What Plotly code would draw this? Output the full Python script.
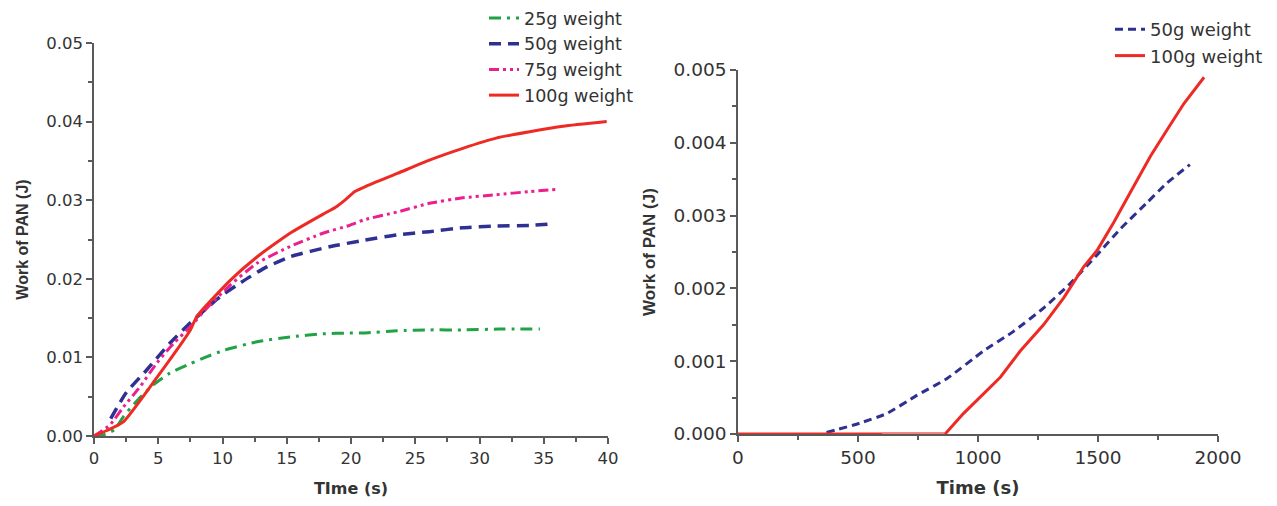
import plotly.graph_objects as go

# ---------------- Left panel data (Time s, Work J) ----------------
t25 = [0, 0.5, 1.6, 2.3, 3.3, 4.6, 5.9, 7.5, 8.8, 10.1, 12.7, 15.25, 17.8, 19.9, 21.0, 23.6, 26.1, 28.7, 31.5, 34.7]
w25 = [0, 0.0, 0.0008, 0.0025, 0.0044, 0.0065, 0.0080, 0.0092, 0.0101, 0.0109, 0.0120, 0.0126, 0.0130, 0.0131, 0.0131, 0.0134, 0.0135, 0.0135, 0.0136, 0.0136]

t50 = [1.3, 2.5, 4.1, 5.9, 7.5, 9.8, 11.5, 13.2, 15.25, 18.4, 21.0, 23.6, 26.1, 28.7, 31.3, 33.9, 35.7]
w50 = [0.0022, 0.0055, 0.0084, 0.0118, 0.0144, 0.0177, 0.0196, 0.0213, 0.0228, 0.0241, 0.0249, 0.0256, 0.0260, 0.0265, 0.0267, 0.0268, 0.0270]

t75 = [0, 1.24, 2.3, 3.6, 4.9, 6.2, 7.5, 8.8, 10.6, 12.7, 15.25, 17.8, 19.9, 21.0, 23.6, 26.1, 28.7, 31.3, 33.9, 36.1]
w75 = [0, 0.0014, 0.0037, 0.0063, 0.0093, 0.0118, 0.0139, 0.0163, 0.0192, 0.0220, 0.0241, 0.0258, 0.0268, 0.0275, 0.0285, 0.0296, 0.0303, 0.0307, 0.0311, 0.0314]

t100 = [0, 1.0, 2.28, 4.87, 7.5, 8.0, 10.6, 12.7, 15.25, 17.8, 18.8, 19.6, 20.3, 21.2, 23.6, 26.1, 28.7, 31.3, 33.9, 36.5, 39.9]
w100 = [0, 0.0007, 0.0018, 0.0074, 0.0135, 0.0152, 0.0198, 0.0228, 0.0258, 0.0282, 0.0291, 0.0301, 0.0311, 0.0318, 0.0334, 0.0351, 0.0366, 0.0379, 0.0387, 0.0394, 0.0400]

# ---------------- Right panel data (Time s, Work J) ----------------
r50_t = [369, 508, 619, 745, 870, 1023, 1148, 1273, 1385, 1496, 1594, 1705, 1788, 1883]
r50_w = [0.00002, 0.00015, 0.00028, 0.00053, 0.00076, 0.00114, 0.00141, 0.00173, 0.00207, 0.00246, 0.00282, 0.00318, 0.00345, 0.00370]

r100_t = [0, 600, 863, 939, 1023, 1093, 1176, 1273, 1357, 1441, 1496, 1566, 1635, 1719, 1788, 1858, 1942]
r100_w = [0, 0, 0, 0.00028, 0.00055, 0.00078, 0.00114, 0.00150, 0.00187, 0.00230, 0.00252, 0.00291, 0.00332, 0.00382, 0.00418, 0.00454, 0.00490]
# lighter-drawn stretch of the flat red baseline
r100_faded_t = [600, 860]
r100_faded_w = [0, 0]

left_names = ["25g weight", "50g weight", "75g weight", "100g weight"]
right_names = ["50g weight", "100g weight"]

GREEN = "#1fa344"
BLUE = "#2e3192"
MAGENTA = "#ec1f8e"
RED = "#ee2a24"
RED_FADED = "#f47f7c"
AXC = "#5a5a5a"
TXT = "#333333"
WIDE = "DejaVu Sans, Verdana, sans-serif"
ARIAL = "Liberation Sans, Arial, sans-serif"

fig = go.Figure()

fig.add_trace(go.Scatter(x=t25, y=w25, name=left_names[0], mode="lines",
                         line=dict(color=GREEN, width=3, dash="12px,6px,3px,6px", shape="spline", smoothing=0.5),
                         xaxis="x", yaxis="y", legend="legend"))
fig.add_trace(go.Scatter(x=t50, y=w50, name=left_names[1], mode="lines",
                         line=dict(color=BLUE, width=3.5, dash="12px,7px", shape="spline", smoothing=0.5),
                         xaxis="x", yaxis="y", legend="legend"))
fig.add_trace(go.Scatter(x=t75, y=w75, name=left_names[2], mode="lines",
                         line=dict(color=MAGENTA, width=3, dash="10px,4px,3px,4px,3px,4px", shape="spline", smoothing=0.5),
                         xaxis="x", yaxis="y", legend="legend"))
fig.add_trace(go.Scatter(x=t100, y=w100, name=left_names[3], mode="lines",
                         line=dict(color=RED, width=3, shape="spline", smoothing=0.5),
                         xaxis="x", yaxis="y", legend="legend"))

fig.add_trace(go.Scatter(x=r50_t, y=r50_w, name=right_names[0], mode="lines",
                         line=dict(color=BLUE, width=3, dash="8px,5px", shape="spline", smoothing=0.5),
                         xaxis="x2", yaxis="y2", legend="legend2"))
fig.add_trace(go.Scatter(x=r100_t, y=r100_w, name=right_names[1], mode="lines",
                         line=dict(color=RED, width=3),
                         xaxis="x2", yaxis="y2", legend="legend2"))
fig.add_trace(go.Scatter(x=r100_faded_t, y=r100_faded_w, mode="lines", showlegend=False,
                         line=dict(color=RED_FADED, width=3), hoverinfo="skip",
                         xaxis="x2", yaxis="y2"))

# page body adds an 8px margin, so the figure is 16px smaller and offset by 8
OFF = 8
W, H = 1277 - 2 * OFF, 506 - 2 * OFF

def px_x(p):
    return (p - OFF) / W

def px_y(p):
    return 1 - (p - OFF) / H

def ax_common(size):
    return dict(
        showline=True, linecolor=AXC, linewidth=1.5, mirror=False,
        ticks="outside", ticklen=6, tickwidth=1.5, tickcolor=AXC,
        showgrid=False, zeroline=False, automargin=False,
        tickfont=dict(family=WIDE, size=size, color=TXT),
    )

fig.update_layout(
    width=W, height=H,
    margin=dict(l=0, r=0, t=0, b=0, autoexpand=False),
    paper_bgcolor="white", plot_bgcolor="white",
    font=dict(family=WIDE, color=TXT),
    xaxis=dict(domain=[px_x(94), px_x(608)], range=[0, 40], dtick=5, anchor="y",
               minor=dict(dtick=2.5, ticks="outside", ticklen=4, tickcolor=AXC),
               title=dict(text="<b>TIme (s)</b>", font=dict(family=WIDE, size=16, color=TXT), standoff=22),
               **ax_common(16.5)),
    yaxis=dict(domain=[px_y(436), px_y(43)], range=[0, 0.05], dtick=0.01, tickformat=".2f", anchor="x",
               minor=dict(dtick=0.005, ticks="outside", ticklen=4, tickcolor=AXC),
               title=dict(text="<b>Work of PAN (J)</b>", font=dict(family=ARIAL, size=16, color=TXT), standoff=14),
               **ax_common(16.5)),
    xaxis2=dict(domain=[px_x(738), px_x(1218)], range=[0, 2000], dtick=500, anchor="y2",
                minor=dict(dtick=250, ticks="outside", ticklen=4, tickcolor=AXC),
                title=dict(text="<b>Time (s)</b>", font=dict(family=WIDE, size=18, color=TXT), standoff=23),
                **ax_common(18.5)),
    yaxis2=dict(domain=[px_y(434), px_y(70)], range=[0, 0.005], dtick=0.001, tickformat=".3f", anchor="x2",
                minor=dict(dtick=0.0005, ticks="outside", ticklen=4, tickcolor=AXC),
                title=dict(text="<b>Work of PAN (J)</b>", font=dict(family=ARIAL, size=17, color=TXT), standoff=14),
                **ax_common(18.5)),
    legend=dict(x=px_x(484), y=px_y(0), xanchor="left", yanchor="top",
                bgcolor="rgba(0,0,0,0)", font=dict(family=WIDE, size=17.5, color=TXT),
                tracegroupgap=0),
    legend2=dict(x=px_x(1110), y=px_y(11), xanchor="left", yanchor="top",
                 bgcolor="rgba(0,0,0,0)", font=dict(family=WIDE, size=18, color=TXT),
                 tracegroupgap=0),
    showlegend=True,
)

fig.write_html("out.html")
